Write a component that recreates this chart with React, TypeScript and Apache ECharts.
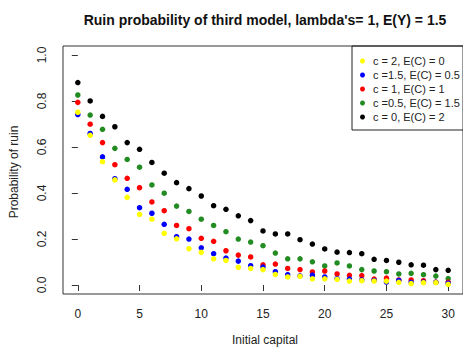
import React, { useEffect, useRef } from "react";
import * as echarts from "echarts";

const capital = [0, 1, 2, 3, 4, 5, 6, 7, 8, 9, 10, 11, 12, 13, 14, 15, 16, 17, 18, 19, 20, 21, 22, 23, 24, 25, 26, 27, 28, 29, 30];

const ruinC2 = [0.751, 0.651, 0.536, 0.457, 0.381, 0.307, 0.286, 0.225, 0.201, 0.158, 0.142, 0.114, 0.107, 0.077, 0.072, 0.067, 0.046, 0.035, 0.038, 0.027, 0.027, 0.025, 0.017, 0.019, 0.017, 0.017, 0.012, 0.006, 0.010, 0.010, 0.003];
const ruinC15 = [0.741, 0.659, 0.557, 0.462, 0.416, 0.336, 0.312, 0.264, 0.210, 0.200, 0.162, 0.136, 0.117, 0.104, 0.084, 0.078, 0.058, 0.045, 0.040, 0.043, 0.035, 0.028, 0.026, 0.022, 0.020, 0.013, 0.020, 0.012, 0.013, 0.012, 0.008];
const ruinC1 = [0.794, 0.699, 0.619, 0.523, 0.464, 0.423, 0.361, 0.323, 0.259, 0.245, 0.203, 0.190, 0.149, 0.130, 0.122, 0.088, 0.091, 0.072, 0.067, 0.057, 0.061, 0.048, 0.042, 0.041, 0.026, 0.030, 0.022, 0.022, 0.019, 0.013, 0.013];
const ruinC05 = [0.826, 0.739, 0.677, 0.594, 0.546, 0.512, 0.435, 0.399, 0.343, 0.320, 0.286, 0.259, 0.232, 0.200, 0.187, 0.171, 0.139, 0.114, 0.114, 0.101, 0.083, 0.096, 0.083, 0.067, 0.061, 0.058, 0.048, 0.051, 0.045, 0.039, 0.028];
const ruinC0 = [0.880, 0.800, 0.733, 0.688, 0.619, 0.590, 0.533, 0.486, 0.445, 0.419, 0.387, 0.345, 0.329, 0.301, 0.280, 0.235, 0.222, 0.222, 0.197, 0.178, 0.157, 0.143, 0.141, 0.136, 0.112, 0.107, 0.099, 0.088, 0.086, 0.067, 0.064];

const legendNames = ["c = 2, E(C) = 0", "c =1.5, E(C) = 0.5", "c = 1, E(C) = 1", "c =0.5, E(C) = 1.5", "c = 0, E(C) = 2"];
const colors = ["#ffff00", "#0000ff", "#ff0000", "#228b22", "#000000"];
const seriesValues = [ruinC2, ruinC15, ruinC1, ruinC05, ruinC0];

const xTicks = [0, 5, 10, 15, 20, 25, 30];
const yTicks = [0, 0.2, 0.4, 0.6, 0.8, 1.0];

const FONT = "'Liberation Sans', Arial, sans-serif";

export default function App() {
  const ref = useRef<HTMLDivElement>(null);
  useEffect(() => {
    if (!ref.current) return;
    const chart = echarts.init(ref.current, null, { renderer: "svg" });
    // draw order: black first, yellow last (on top)
    const order = [4, 3, 2, 1, 0];
    const series = order.map((k) => ({
      name: legendNames[k],
      type: "scatter",
      symbol: "circle",
      symbolSize: 5.5,
      itemStyle: { color: colors[k], opacity: 1 },
      data: capital.map((x, i) => [x, seriesValues[k][i]]),
      z: 2 + (4 - k),
    }));
    chart.setOption({
      animation: false,
      backgroundColor: "#ffffff",
      grid: {
        left: 63,
        top: 46,
        width: 404,
        height: 248,
        show: true,
        borderColor: "#333",
        borderWidth: 1,
        backgroundColor: "transparent",
      },
      xAxis: {
        type: "value",
        min: -1.2,
        max: 31.2,
        splitLine: { show: false },
        axisLine: { show: false },
        axisTick: { show: true, customValues: xTicks, length: 6, lineStyle: { color: "#333" } },
        axisLabel: {
          customValues: xTicks,
          margin: 14,
          fontSize: 12,
          color: "#222",
          fontFamily: FONT,
        },
      },
      yAxis: {
        type: "value",
        min: -0.039,
        max: 1.039,
        splitLine: { show: false },
        axisLine: { show: false },
        axisTick: { show: true, customValues: yTicks, length: 6, lineStyle: { color: "#333" } },
        axisLabel: {
          customValues: yTicks,
          rotate: 90,
          margin: 15,
          fontSize: 12,
          color: "#222",
          fontFamily: FONT,
          formatter: (v: number) => v.toFixed(1),
        },
      },
      legend: {
        orient: "vertical",
        left: 352,
        top: 46,
        data: legendNames,
        icon: "circle",
        itemWidth: 5,
        itemHeight: 5,
        itemGap: 0,
        padding: [8, 20, 6, 8],
        borderColor: "#222",
        borderWidth: 1,
        borderRadius: 0,
        itemStyle: { opacity: 1 },
        textStyle: { fontSize: 11, color: "#222", fontFamily: FONT, lineHeight: 14, padding: [0, 0, 0, 3] },
      },
      graphic: [
        {
          type: "text",
          x: 265,
          y: 20,
          style: {
            text: "Ruin probability of third model, lambda's= 1, E(Y) = 1.5",
            font: `bold 14px ${FONT}`,
            fill: "#111",
            textAlign: "center",
            textVerticalAlign: "middle",
          },
        },
        {
          type: "text",
          x: 265,
          y: 340,
          style: {
            text: "Initial capital",
            font: `12px ${FONT}`,
            fill: "#222",
            textAlign: "center",
            textVerticalAlign: "middle",
          },
        },
        {
          type: "text",
          x: 14,
          y: 172,
          rotation: Math.PI / 2,
          style: {
            text: "Probability of ruin",
            font: `12px ${FONT}`,
            fill: "#222",
            textAlign: "center",
            textVerticalAlign: "middle",
          },
        },
      ],
      series,
    });
    return () => chart.dispose();
  }, []);
  return (
    <div
      ref={ref}
      style={{ position: "absolute", left: 0, top: 0, width: 463, height: 349, background: "#fff" }}
    />
  );
}
